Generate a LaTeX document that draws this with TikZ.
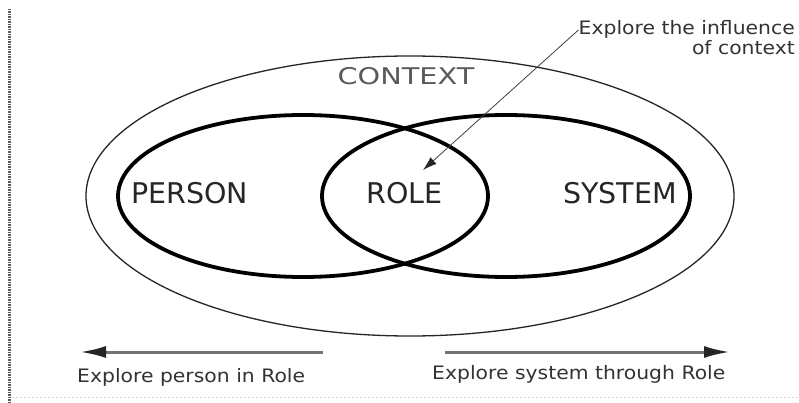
\documentclass[tikz,border=0pt]{standalone}
\usepackage{fontspec}
\setmainfont{DejaVu Sans}
\newfontfamily\ctxfont[FakeStretch=1.25]{DejaVu Sans}
\newfontfamily\labfont[FakeStretch=1.1]{DejaVu Sans}
\usetikzlibrary{shapes.geometric,arrows.meta}
\begin{document}
\begin{tikzpicture}[x=1pt,y=-1pt,
  ring/.style={ellipse,draw,inner sep=0pt},
  outerring/.style={ring,line width=1.3pt,draw=black!85},
  innerring/.style={ring,line width=3.8pt,draw=black},
  bigtext/.style={inner sep=0pt,anchor=base,text=black!85,font=\fontsize{28.5}{30}\selectfont},
  ctxtext/.style={inner sep=0pt,anchor=base,text=black!65,font=\ctxfont\fontsize{23}{25}\selectfont},
  smalltext/.style={inner sep=0pt,text=black!80,font=\labfont\fontsize{18.5}{20}\selectfont},
  pointer/.style={line width=0.8pt,draw=black!75,-{Latex[length=14pt,width=9pt,color=black!85]}},
  direction/.style={line width=3pt,draw=black!55,-{Latex[length=26pt,width=12pt,color=black!85]}}
]
\useasboundingbox (0,0) rectangle (799,403);
\fill[white] (0,0) rectangle (799,403);
% frame remnants
\draw[line width=2.5pt,black!65,dash pattern=on 1.5pt off 1pt] (9.5,9) -- (9.5,403);
\draw[line width=1pt,black!15,dash pattern=on 2pt off 2pt] (12,397) -- (799,397);
% ellipses
\node[outerring,minimum width=648pt,minimum height=280pt] (context) at (410,196) {};
\node[innerring,minimum width=370pt,minimum height=162pt] (person) at (303,196) {};
\node[innerring,minimum width=368pt,minimum height=162pt] (system) at (506,196) {};
% labels
\node[ctxtext] (ctxlab) at (406,85) {CONTEXT};
\node[bigtext] (personlab) at (189.5,203.5) {PERSON};
\node[bigtext] (rolelab) at (404.5,203.5) {ROLE};
\node[bigtext] (systemlab) at (620,203.5) {SYSTEM};
\node[smalltext,anchor=base east] (infl1) at (795,35) {Explore the influence};
\node[smalltext,anchor=base east] (infl2) at (795,55) {of context};
\coordinate (roletip) at (423,170);
\draw[pointer] (infl1.west) -- (roletip);
% bottom arrows
\coordinate (lstart) at (323,352);
\coordinate (lend) at (80,352);
\coordinate (rstart) at (445,352);
\coordinate (rend) at (730,352);
\draw[direction] (lstart) -- (lend);
\draw[direction] (rstart) -- (rend);
\node[smalltext,anchor=base west] (lefttext) at (77,382) {Explore person in Role};
\node[smalltext,anchor=base west] (righttext) at (432,379) {Explore system through Role};
\end{tikzpicture}
\end{document}
